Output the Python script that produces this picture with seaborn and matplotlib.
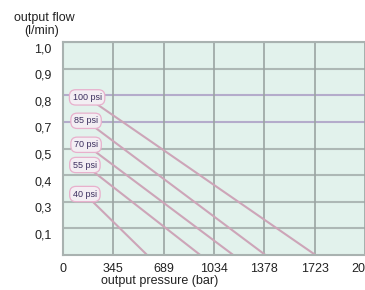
import matplotlib
matplotlib.use("Agg")
import matplotlib.pyplot as plt
import matplotlib.transforms as mtransforms
import seaborn as sns
import pandas as pd

# ---- data ----
x_ticks = [0, 345, 689, 1034, 1378, 1723, 2068]
y_tick_labels = ["1,0", "0,9", "0,8", "0,7", "0,5", "0,4", "0,3", "0,1"]
y_tick_pos = [8, 7, 6, 5, 4, 3, 2, 1]          # gridline slots, bottom = 0
series = ["100 psi", "85 psi", "70 psi", "55 psi", "40 psi"]
start_pressure = [165, 158, 158, 150, 150]
start_flow = [5.92, 5.04, 4.14, 3.38, 2.29]   # in gridline slots
end_pressure = [1729, 1386, 1166, 940, 576]
end_flow = [0, 0, 0, 0, 0]

rows = []
for s, x0, y0, x1, y1 in zip(series, start_pressure, start_flow, end_pressure, end_flow):
    rows.append({"series": s, "pressure": x0, "flow": y0})
    rows.append({"series": s, "pressure": x1, "flow": y1})
df = pd.DataFrame(rows)

sns.set_theme(style="white")
plt.rcParams["font.family"] = ["Liberation Sans", "DejaVu Sans"]

fig = plt.figure(figsize=(3.65, 2.9), dpi=100)
ax = fig.add_axes([63/365, 35/290, 302/365, 213/290])
ax.set_facecolor("#e2f2ec")

# gridlines
for p in y_tick_pos:
    c = "#b4accb" if p in (5, 6) else "#adb8b5"
    ax.axhline(p, color=c, lw=1.5, zorder=1)
for xv in x_ticks[1:]:
    ax.axvline(xv, color="#9aa4a2", lw=1.2, zorder=1)

sns.lineplot(data=df, x="pressure", y="flow", units="series", estimator=None,
             color="#cda5b8", lw=1.5, ax=ax, zorder=2, legend=False)

for s, x0, y0 in zip(series, start_pressure, start_flow):
    ax.text(x0, y0, s, fontsize=6.5, color="#3b2f5e", ha="center", va="center",
            zorder=4,
            bbox=dict(boxstyle="round,pad=0.35,rounding_size=0.7", fc="#f3eef3",
                      ec="#e8b0cc", lw=0.9))

ax.set_xlim(0, 2068)
ax.set_ylim(0, 8)
ax.set_xticks(x_ticks)
ax.set_xticklabels([str(v) for v in x_ticks])
ax.set_yticks(y_tick_pos)
ax.set_yticklabels(y_tick_labels)
ax.tick_params(axis="both", length=0, labelsize=9, colors="#222222")
ax.tick_params(axis="y", pad=8)
ax.tick_params(axis="x", pad=6)
for lab in ax.get_yticklabels():
    lab.set_transform(lab.get_transform() +
                      mtransforms.ScaledTranslation(0, -4/72, fig.dpi_scale_trans))
ax.set_xlabel("")
ax.set_ylabel("")

for side in ["left", "bottom", "top"]:
    ax.spines[side].set_color("#a9b2b0")
    ax.spines[side].set_linewidth(1.5)
ax.spines["right"].set_visible(False)

fig.text(44/365, 1 - 18/290, "output flow", fontsize=9, ha="center", va="center", color="#222222")
fig.text(42/365, 1 - 31/290, "(l/min)", fontsize=9, ha="center", va="center", color="#222222")
fig.text(160/365, 1 - 281/290, "output pressure (bar)", fontsize=9, ha="center", va="center",
         color="#222222")

fig.savefig("out.png", dpi=100)
